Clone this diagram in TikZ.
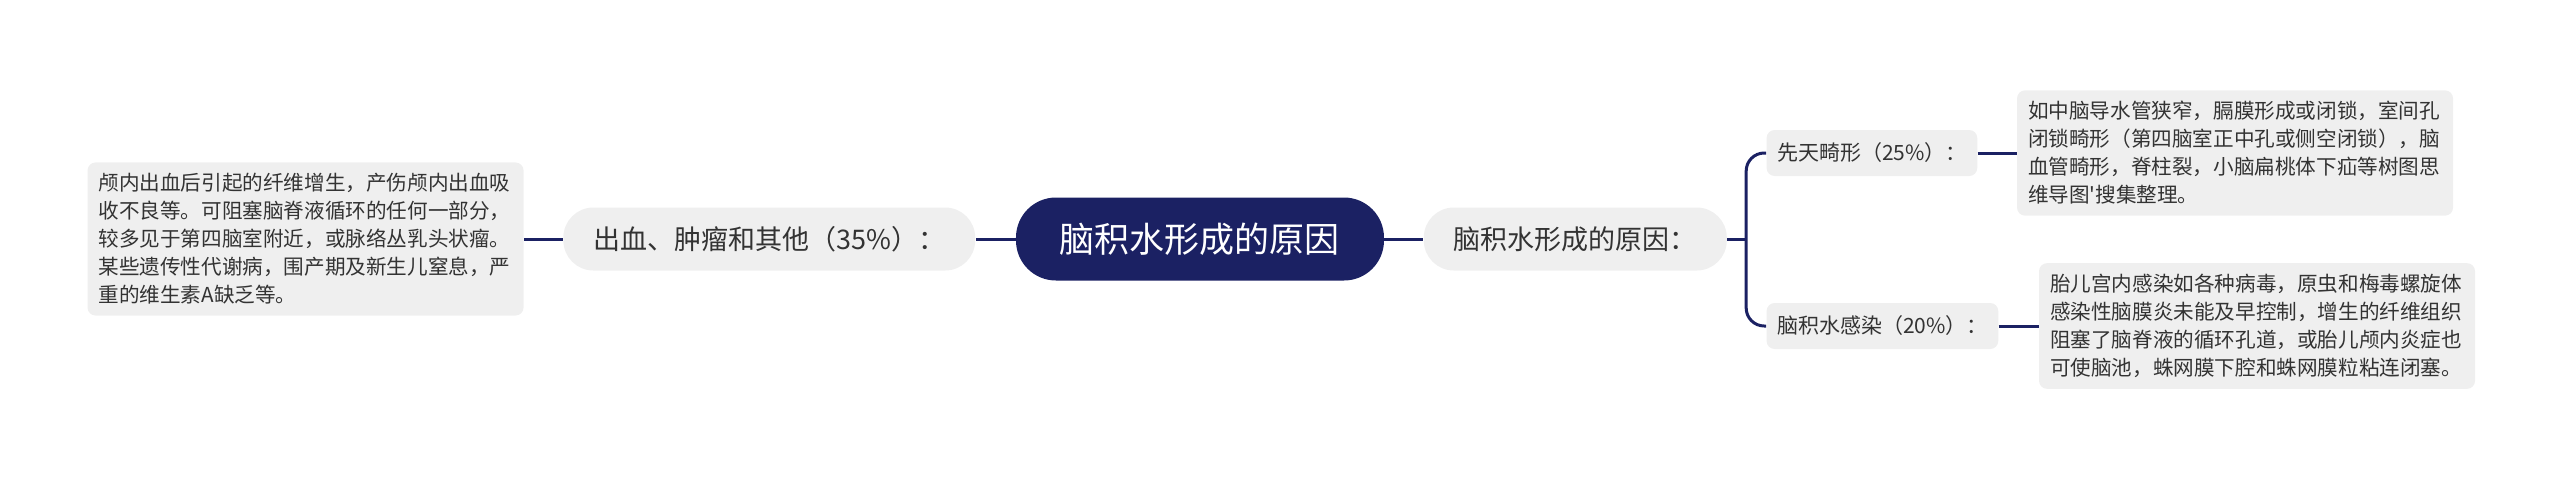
\documentclass[tikz,border=0pt]{standalone}
\usepackage{fontspec}
\setmainfont{Noto Sans CJK SC}
\newfontfamily\plainquote{Noto Sans CJK SC}
\usepackage{xcolor}
\usepackage{tikz}
\usetikzlibrary{shapes, positioning, calc}
\definecolor{mapnavy}{HTML}{1B2163}
\definecolor{mapgray}{HTML}{EFEFEF}
\definecolor{maptext}{HTML}{333333}
\tikzstyle{map.root} = [rectangle, fill=mapnavy, text=white, rounded corners=20pt, minimum height=41.5pt, inner xsep=22pt, font={\fontsize{17.5}{20}\selectfont}]
\tikzstyle{map.branch} = [rectangle, fill=mapgray, text=maptext, rounded corners=15pt, minimum height=31.5pt, inner xsep=15pt, font={\fontsize{13.5}{16}\selectfont}]
\tikzstyle{map.leaf} = [rectangle, fill=mapgray, text=maptext, rounded corners=4pt, minimum height=23pt, inner xsep=5.25pt, font={\fontsize{10.5}{13}\selectfont}]
\tikzstyle{map.note} = [rectangle, fill=mapgray, text=maptext, rounded corners=4pt, text width=207pt, align=left, inner xsep=5.5pt, inner ysep=5.5pt, font={\fontsize{10.3}{14}\selectfont}]
\tikzstyle{map.link} = [line width=1.5pt, mapnavy]

\begin{document}
\begin{tikzpicture}
\useasboundingbox (-600pt,-120pt) rectangle (680pt,119.5pt);
\node[map.root] (root) at (0,0) {脑积水形成的原因};
\node[map.branch, left=20pt of root] (bleed) {出血、肿瘤和其他（35\%）：};
\node[map.note, left=19.5pt of bleed] (bleednote) {颅内出血后引起的纤维增生，产伤颅内出血吸\\收不良等。可阻塞脑脊液循环的任何一部分，\\较多见于第四脑室附近，或脉络丛乳头状瘤。\\某些遗传性代谢病，围产期及新生儿窒息，严\\重的维生素A缺乏等。};
\node[map.branch, right=19.5pt of root] (cause) {脑积水形成的原因：};
\node[map.leaf, right=19.5pt of cause, yshift=43pt] (birth) {先天畸形（25\%）：};
\node[map.leaf, right=19.5pt of cause, yshift=-43.5pt] (infect) {脑积水感染（20\%）：};
\node[map.note, right=19.5pt of birth] (birthnote) {如中脑导水管狭窄，膈膜形成或闭锁，室间孔\\闭锁畸形（第四脑室正中孔或侧空闭锁），脑\\血管畸形，脊柱裂，小脑扁桃体下疝等树图思\\维导图{\plainquote '}搜集整理。};
\node[map.note, right=20pt of infect] (infectnote) {胎儿宫内感染如各种病毒，原虫和梅毒螺旋体\\感染性脑膜炎未能及早控制，增生的纤维组织\\阻塞了脑脊液的循环孔道，或胎儿颅内炎症也\\可使脑池，蛛网膜下腔和蛛网膜粒粘连闭塞。};

\draw[map.link] (root) -- (bleed);
\draw[map.link] (bleed) -- (bleednote);
\draw[map.link] (root) -- (cause);
\draw[map.link] (cause.east) -- ++(9.5pt,0) coordinate (fork);
\draw[map.link, rounded corners=9pt] (birth.west) -| (fork) |- (infect.west);
\draw[map.link] (birth) -- (birthnote);
\draw[map.link] (infect) -- (infectnote);
\end{tikzpicture}
\end{document}
